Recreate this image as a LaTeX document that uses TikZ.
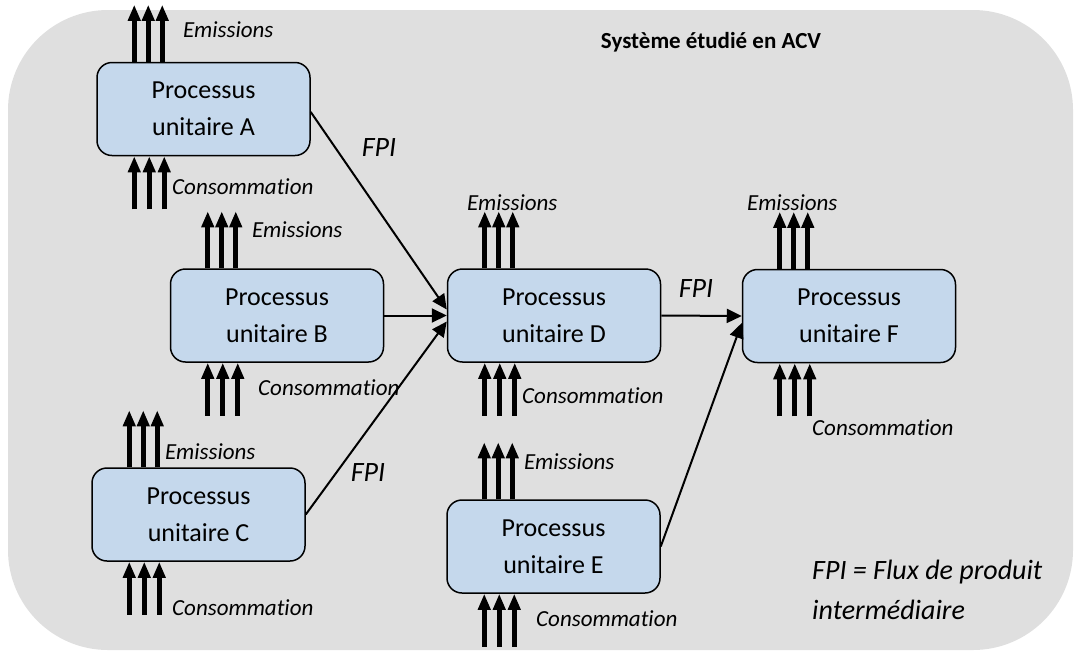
\documentclass[tikz,border=0pt]{standalone}
\usepackage{fontspec}
\setmainfont{Carlito}[Ligatures={NoCommon}]
\usetikzlibrary{arrows.meta,calc}
\definecolor{bggray}{RGB}{223,223,223}
\definecolor{boxblue}{RGB}{197,216,236}
\tikzset{
  proc/.style={draw=black, line width=1.5pt, fill=boxblue, rounded corners=15pt,
    minimum width=213pt, minimum height=93pt, align=center, inner sep=0pt,
    font=\fontsize{26}{37}\selectfont},
  flow/.style={line width=5pt, -{Triangle[length=16pt,width=12pt]}},
  conn/.style={line width=2pt, -{Triangle[length=15pt,width=14pt]}},
  lbl/.style={inner sep=0pt, anchor=west, font=\itshape\fontsize{23}{28}\selectfont},
  fpi/.style={inner sep=0pt, font=\itshape\fontsize{28}{40}\selectfont}
}
\newcommand\procflows[1]{%
  \foreach \dx in {38,52,66} \draw[flow] ($(#1.north west)+(\dx,0)$) -- ($(#1.north west)+(\dx,-57)$);
  \foreach \dx in {38,53,68} \draw[flow] ($(#1.south west)+(\dx,53)$) -- ($(#1.south west)+(\dx,0)$);
}
\begin{document}
\begin{tikzpicture}[x=1pt,y=-1pt]
\useasboundingbox (0,0) rectangle (1075,657);
\fill[bggray, rounded corners=100pt] (8,10) rectangle (1073,650);

\node[proc] (A) at (203.5,109) {Processus\\unitaire A};
\node[proc] (B) at (277,315.5) {Processus\\unitaire B};
\node[proc] (C) at (198.5,514.5) {Processus\\unitaire C};
\node[proc] (D) at (554,315.5) {Processus\\unitaire D};
\node[proc] (E) at (553.5,546.5) {Processus\\unitaire E};
\node[proc] (F) at (849,316) {Processus\\unitaire F};

\procflows{A}\procflows{B}\procflows{C}\procflows{D}\procflows{E}\procflows{F}

\node[lbl] (eA) at (183,30) {Emissions};
\node[lbl] (eB) at (252,230) {Emissions};
\node[lbl] (eC) at (165,452) {Emissions};
\node[lbl] (eD) at (467,203) {Emissions};
\node[lbl] (eE) at (524,462) {Emissions};
\node[lbl] (eF) at (747,203) {Emissions};

\node[lbl] (cA) at (172,187) {Consommation};
\node[lbl] (cB) at (258,388) {Consommation};
\node[lbl] (cC) at (172,608) {Consommation};
\node[lbl] (cD) at (522,396) {Consommation};
\node[lbl] (cE) at (536,619) {Consommation};
\node[lbl] (cF) at (812,428) {Consommation};

\draw[conn] ($(A.east)+(0,3)$) -- ($(D.west)+(0,-6)$);
\draw[conn] (B.east) -- (D.west);
\draw[conn] (C.east) -- ($(D.west)+(0,6)$);
\draw[conn] (D.east) -- (F.west);
\draw[conn] (E.east) -- ($(F.west)+(0,7)$);

\node[fpi] (f1) at (379,148) {FPI};
\node[fpi] (f2) at (368,473) {FPI};
\node[fpi] (f3) at (696,289) {FPI};

\node[inner sep=0pt, font=\bfseries\fontsize{23}{28}\selectfont] (title) at (711,42) {Système étudié en ACV};
\node[inner sep=0pt, anchor=north west, align=left, font=\itshape\fontsize{28}{40}\selectfont] (leg) at (812,560) {FPI = Flux de produit\\intermédiaire};
\end{tikzpicture}
\end{document}
